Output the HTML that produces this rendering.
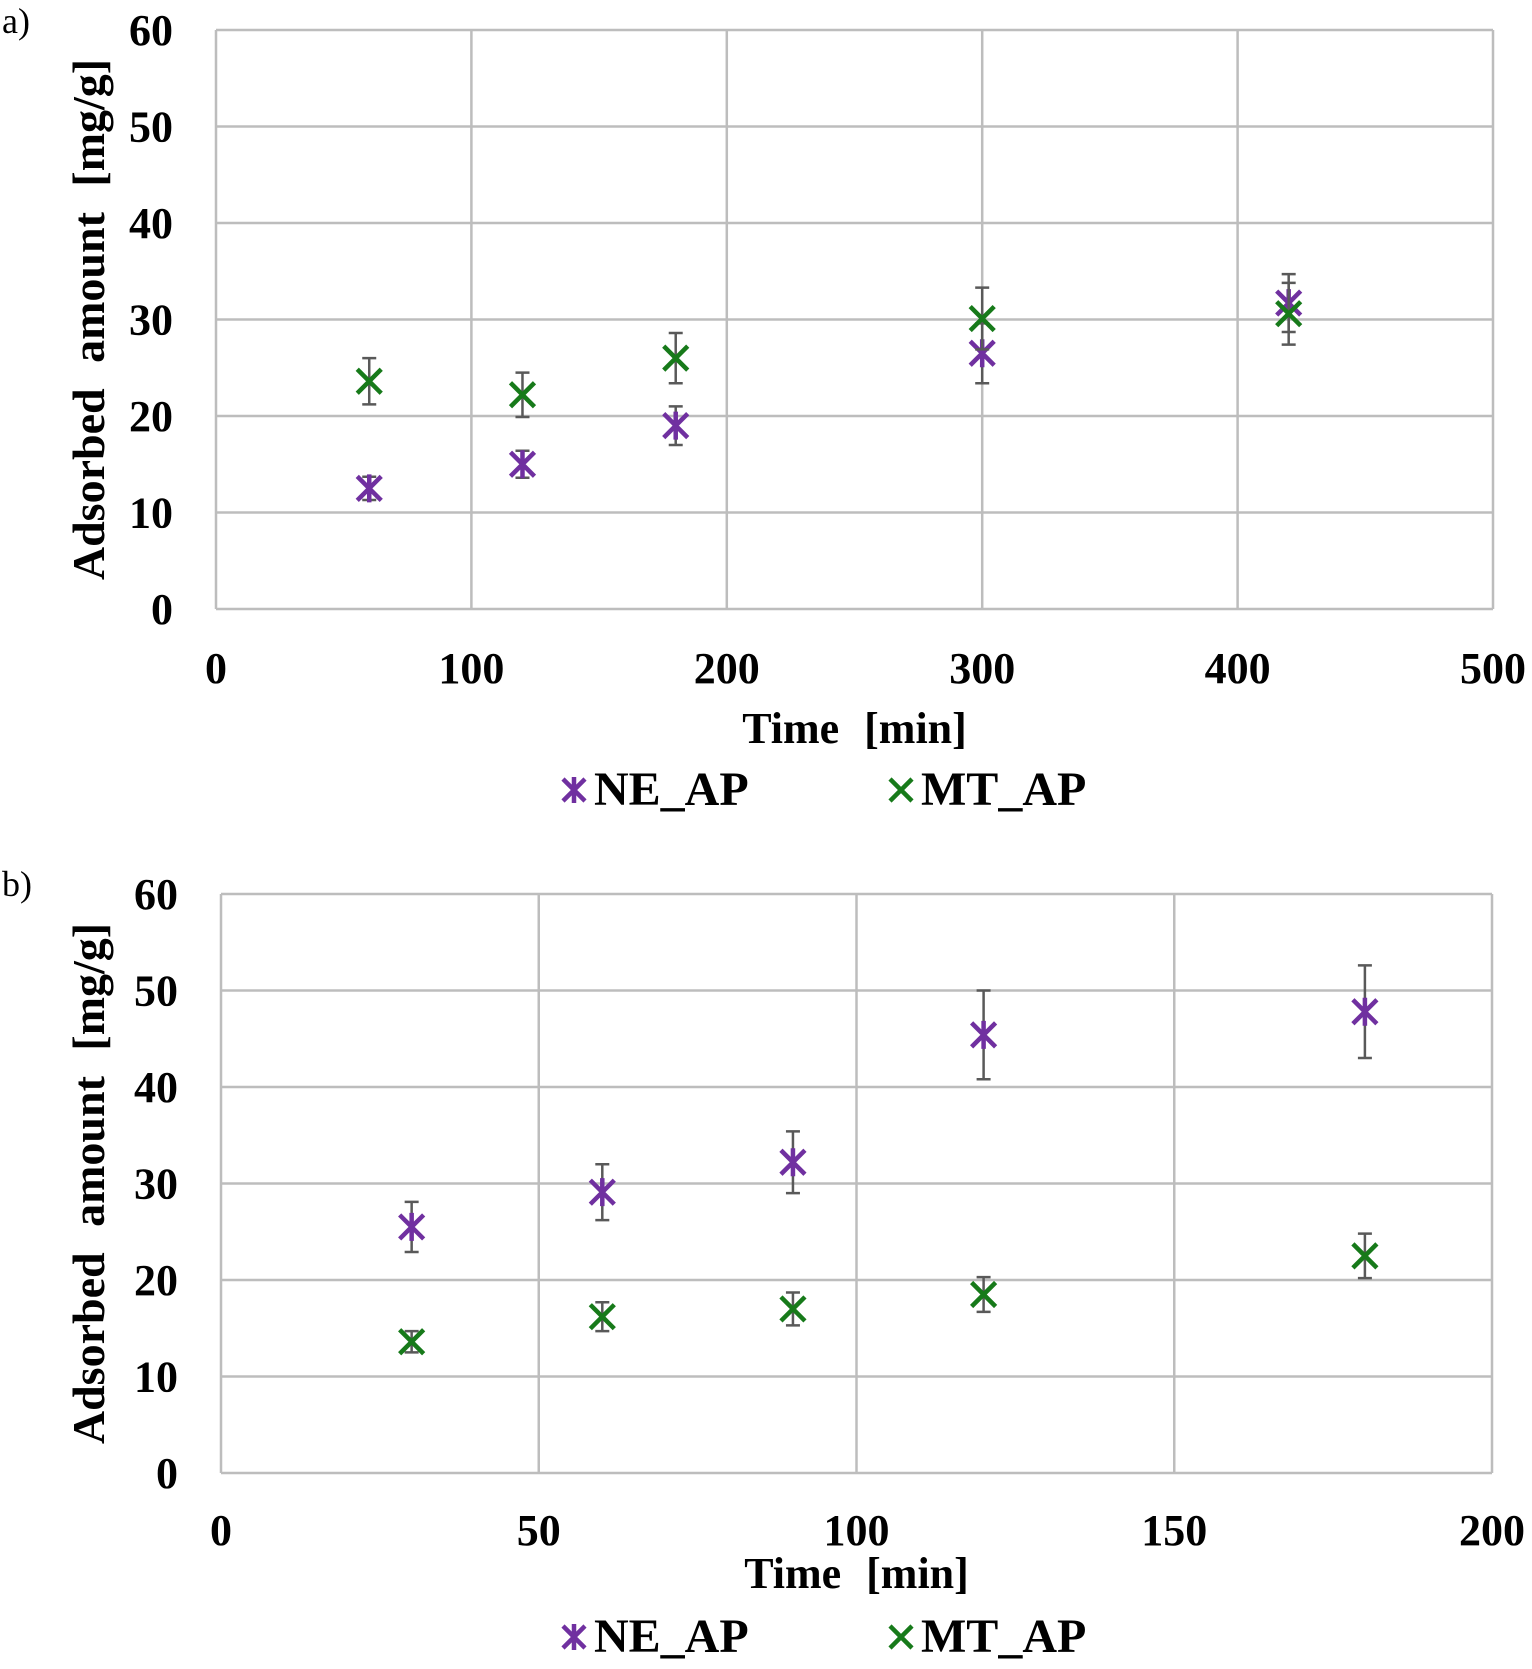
<!DOCTYPE html>
<html><head><meta charset="utf-8"><style>
html,body{margin:0;padding:0;background:#fff}
svg{display:block}
text{font-family:"Liberation Serif",serif;font-weight:bold;fill:#000}
</style></head><body>
<svg id="chart" width="1532" height="1669" viewBox="0 0 1532 1669" xmlns="http://www.w3.org/2000/svg">
<text x="2" y="33" style="font-weight:normal;font-size:36px">a)</text>
<text x="2" y="896" style="font-weight:normal;font-size:36px">b)</text>
</svg>
<script>
const xA = [60,120,180,300,420];
const neA = [12.5,15,19,26.5,31.7];
const neAErr = [1.2,1.4,2,3.1,3];
const mtA = [23.6,22.2,26,30.1,30.6];
const mtAErr = [2.4,2.3,2.6,3.2,3.2];
const xTicksA = [0,100,200,300,400,500];
const xB = [30,60,90,120,180];
const neB = [25.5,29.1,32.2,45.4,47.8];
const neBErr = [2.6,2.9,3.2,4.6,4.8];
const mtB = [13.6,16.2,17,18.5,22.5];
const mtBErr = [1.1,1.5,1.7,1.8,2.3];
const xTicksB = [0,50,100,150,200];
const yTicks = [0,10,20,30,40,50,60];

const NS="http://www.w3.org/2000/svg";
const svg=document.getElementById('chart');
function mk(tag,attrs,parent){const e=document.createElementNS(NS,tag);for(const k in attrs)e.setAttribute(k,attrs[k]);(parent||svg).appendChild(e);return e;}

function panel(p,L,R,T,B,xmax,xticks,xs,ne,neE,mt,mtE,xlabY,titleY,legY){
  const g=mk('g',{});
  
  
  const sx=v=>L+(R-L)*v/xmax, sy=v=>B-(B-T)*v/60;
  yTicks.forEach(t=>{
    const l=mk('line',{x1:L,x2:R,y1:sy(t),y2:sy(t),stroke:'#bdbdbd','stroke-width':2.5},g);
    
    
    const tx=mk('text',{x:L-43,y:sy(t)+15,'text-anchor':'end','font-size':44},g);
    tx.textContent=t;
    
    
  });
  xticks.forEach(t=>{
    const l=mk('line',{x1:sx(t),x2:sx(t),y1:T,y2:B,stroke:'#bdbdbd','stroke-width':2.5},g);
    
    
    const tx=mk('text',{x:sx(t),y:xlabY,'text-anchor':'middle','font-size':44},g);
    tx.textContent=t;
    
    
  });
  const xt=mk('text',{x:(L+R)/2,y:titleY,'text-anchor':'middle','font-size':44,'word-spacing':'14'},g);
  xt.textContent='Time [min]';
  
  
  const cy=(T+B)/2;
  const yt=mk('text',{x:88,y:cy,'text-anchor':'middle','font-size':46,'word-spacing':'14',transform:`rotate(-90 88 ${cy}) translate(0 16)`},g);
  yt.textContent='Adsorbed amount [mg/g]';
  
  
  function series(name,vals,errs,color,star){
    vals.forEach((v,i)=>{
      const x=sx(xs[i]),y=sy(v),e1=sy(v+errs[i]),e2=sy(v-errs[i]);
      const eb=mk('path',{d:`M${x},${e1}V${e2}M${x-7},${e1}H${x+7}M${x-7},${e2}H${x+7}`,stroke:'#595959','stroke-width':2.5,fill:'none'},g);
      
      
      const s=12;
      let d=`M${x-s},${y-s}L${x+s},${y+s}M${x-s},${y+s}L${x+s},${y-s}`;
      if(star)d+=`M${x},${y-s-2}V${y+s+2}`;
      const m=mk('path',{d:d,stroke:color,'stroke-width':4.5,fill:'none'},g);
      
      
    });
  }
  series('ne-ap',ne,neE,'#7030a0',true);
  series('mt-ap',mt,mtE,'#177a1a',false);
  const lx1=574,lx2=901,ly=legY-15,s=11;
  const m1=mk('path',{d:`M${lx1-s},${ly-s}L${lx1+s},${ly+s}M${lx1-s},${ly+s}L${lx1+s},${ly-s}M${lx1},${ly-s-2}V${ly+s+2}`,stroke:'#7030a0','stroke-width':4.5,fill:'none'},g);
  
  
  const t1=mk('text',{x:lx1+20,y:legY,'font-size':48},g);
  t1.textContent='NE_AP';
  
  
  const m2=mk('path',{d:`M${lx2-s},${ly-s}L${lx2+s},${ly+s}M${lx2-s},${ly+s}L${lx2+s},${ly-s}`,stroke:'#177a1a','stroke-width':4.5,fill:'none'},g);
  
  
  const t2=mk('text',{x:lx2+20,y:legY,'font-size':48},g);
  t2.textContent='MT_AP';
  
  
}
panel('a',216,1493,30,609,500,xTicksA,xA,neA,neAErr,mtA,mtAErr,683,743,805);
panel('b',221,1492,894,1473,200,xTicksB,xB,neB,neBErr,mtB,mtBErr,1545,1588,1652);
</script>
</body></html>
